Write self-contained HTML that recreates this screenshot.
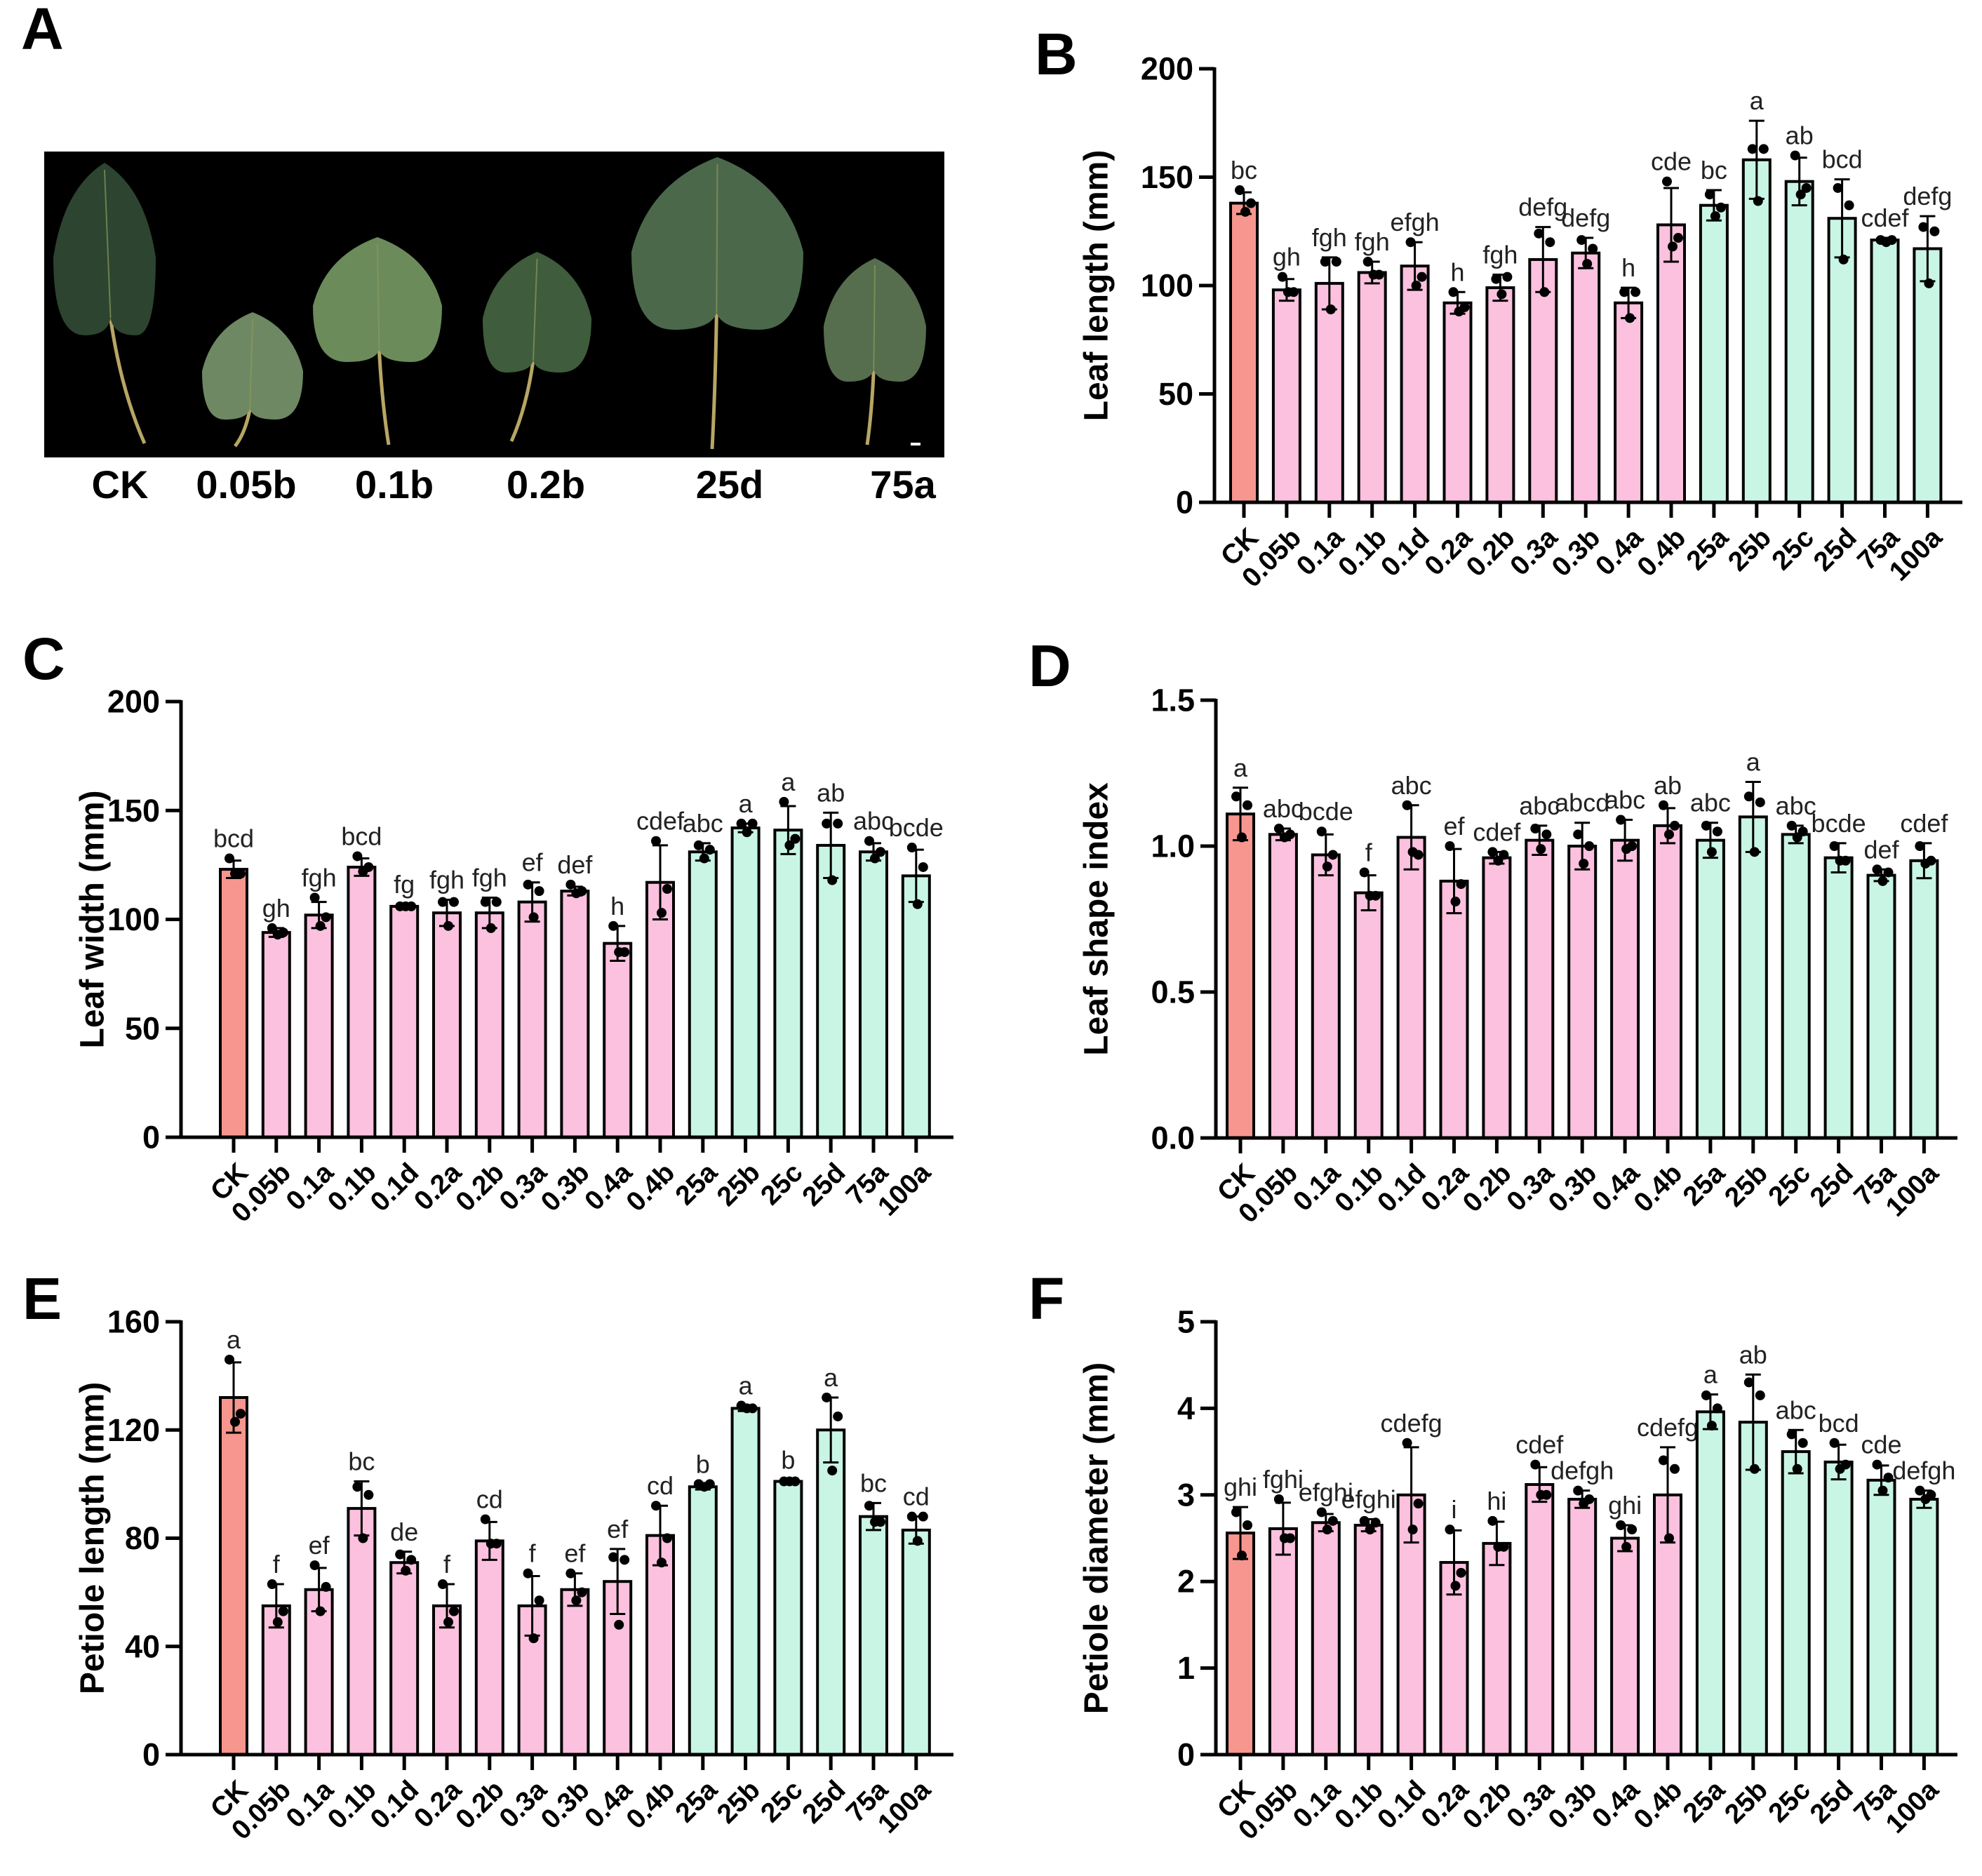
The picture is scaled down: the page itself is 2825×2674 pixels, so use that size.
<!DOCTYPE html>
<html><head><meta charset="utf-8">
<style>
html,body{margin:0;padding:0;background:#fff;}
svg{display:block;font-family:"Liberation Sans",Arial,sans-serif;}
</style></head>
<body>
<svg id="fig" width="2825" height="2674" viewBox="0 0 2825 2674" xmlns="http://www.w3.org/2000/svg">
<rect width="2825" height="2674" fill="#fff"/>
<g id="panelA">
<text x="30" y="70" font-family="'Liberation Sans Narrow','Liberation Sans',sans-serif" font-weight="bold" font-size="84">A</text>
<rect x="63" y="216" width="1283" height="436" fill="#000"/>
</g>
</svg>
<script>
const cats = ["CK","0.05b","0.1a","0.1b","0.1d","0.2a","0.2b","0.3a","0.3b","0.4a","0.4b","25a","25b","25c","25d","75a","100a"];

const lenMean = [138,98,101,106,109,92,99,112,115,92,128,137,158,148,131,121,117];
const lenSd = [5,5,12,5,11,5,6,15,7,7,17,7,18,11,18,1,15];
const lenP1 = [144,104,111,111,120,97,103,124,121,97,148,142,163,160,145,121,127];
const lenP2 = [138,97,111,105,104,90,104,120,117,97,122,136,163,145,137,121,125];
const lenP3 = [134,97,89,105,100,88,96,97,110,85,118,132,139,142,112,120,101];
const lenLet = ["bc","gh","fgh","fgh","efgh","h","fgh","defg","defg","h","cde","bc","a","ab","bcd","cdef","defg"];
const lenTicks = [0,50,100,150,200];

const widMean = [123,94,102,124,106,103,103,108,113,89,117,131,142,141,134,131,120];
const widSd = [4,2,6,4,1,6,7,9,2,8,17,4,2,11,15,4,12];
const widP1 = [128,96,110,129,106,108,108,116,116,97,136,134,144,154,144,136,133];
const widP2 = [121,94,101,124,106,108,108,113,113,85,114,132,144,137,144,131,124];
const widP3 = [121,93,97,122,106,97,96,101,112,85,103,128,140,134,118,128,107];
const widLet = ["bcd","gh","fgh","bcd","fg","fgh","fgh","ef","def","h","cdef","abc","a","a","ab","abc","bcde"];
const widTicks = [0,50,100,150,200];

const shpMean = [1.11,1.04,0.97,0.84,1.03,0.88,0.96,1.02,1.00,1.02,1.07,1.02,1.10,1.04,0.96,0.90,0.95];
const shpSd = [0.09,0.02,0.07,0.06,0.11,0.11,0.02,0.05,0.08,0.07,0.06,0.06,0.12,0.03,0.05,0.02,0.06];
const shpP1 = [1.17,1.06,1.05,0.91,1.14,1.00,0.98,1.06,1.04,1.09,1.14,1.07,1.17,1.07,1.00,0.92,1.00];
const shpP2 = [1.14,1.04,0.97,0.83,0.97,0.87,0.97,1.04,1.00,1.00,1.07,1.05,1.15,1.05,0.95,0.91,0.95];
const shpP3 = [1.03,1.03,0.93,0.83,0.98,0.81,0.95,0.99,0.94,0.99,1.04,0.98,0.98,1.03,0.95,0.88,0.94];
const shpLet = ["a","abc","bcde","f","abc","ef","cdef","abc","abcd","abc","ab","abc","a","abc","bcde","def","cdef"];
const shpTicks = [0,0.5,1.0,1.5];

const petMean = [132,55,61,91,71,55,79,55,61,64,81,99,128,101,120,88,83];
const petSd = [13,8,8,10,4,8,7,11,6,12,11,1,1,0.5,12,5,5];
const petP1 = [146,63,70,99,74,63,87,67,67,73,92,100,129,101,132,92,88];
const petP2 = [126,53,62,96,72,53,78,57,60,72,80,100,128,101,125,86,88];
const petP3 = [123,49,53,80,68,49,78,43,57,48,71,99,128,101,105,86,79];
const petLet = ["a","f","ef","bc","de","f","cd","f","ef","ef","cd","b","a","b","a","bc","cd"];
const petTicks = [0,40,80,120,160];

const diaMean = [2.56,2.61,2.68,2.65,3.0,2.22,2.44,3.12,2.95,2.5,3.0,3.96,3.84,3.5,3.38,3.17,2.95];
const diaSd = [0.3,0.3,0.1,0.07,0.55,0.37,0.25,0.2,0.1,0.15,0.55,0.2,0.55,0.25,0.2,0.17,0.1];
const diaP1 = [2.8,2.95,2.8,2.7,3.6,2.6,2.7,3.35,3.05,2.65,3.4,4.15,4.3,3.7,3.6,3.35,3.05];
const diaP2 = [2.65,2.5,2.7,2.68,2.9,2.1,2.4,3.0,2.95,2.6,3.3,4.0,4.15,3.6,3.35,3.2,3.0];
const diaP3 = [2.3,2.5,2.6,2.6,2.6,1.95,2.4,3.0,2.9,2.4,2.5,3.8,3.3,3.3,3.3,3.05,2.95];
const diaLet = ["ghi","fghi","efghi","efghi","cdefg","i","hi","cdef","defgh","ghi","cdefg","a","ab","abc","bcd","cde","defgh"];
const diaTicks = [0,1,2,3,4,5];

const leafNames = ["CK","0.05b","0.1b","0.2b","25d","75a"];

const NS = "http://www.w3.org/2000/svg";
const fig = document.getElementById('fig');
function mk(tag, attrs, parent){
  const e = document.createElementNS(NS, tag);
  for (const k in attrs) e.setAttribute(k, attrs[k]);
  (parent||fig).appendChild(e);
  return e;
}

const pa = document.getElementById('panelA');
const leaves = [
  {x1:76,y1:232,x2:222,y2:478,px:206,py:632,c:"#2c4430",lx:171},
  {x1:288,y1:445,x2:432,y2:598,px:335,py:636,c:"#6f8864",lx:351},
  {x1:446,y1:338,x2:630,y2:516,px:554,py:634,c:"#6b8b5b",lx:562},
  {x1:688,y1:359,x2:843,y2:531,px:729,py:629,c:"#3f5c3d",lx:778},
  {x1:900,y1:224,x2:1145,y2:470,px:1015,py:640,c:"#4b684b",lx:1040},
  {x1:1174,y1:368,x2:1320,y2:544,px:1236,py:634,c:"#566d4e",lx:1287}
];
leaves.forEach((L,i)=>{
  const w=L.x2-L.x1,h=L.y2-L.y1,cx=L.x1+w/2;
  const g = mk('g',{},pa);
  
  
  const nx = cx + (L.px-cx)*0.15;
  mk('path',{d:`M${nx} ${L.y2-0.1*h} Q ${nx+ (L.px-nx)*0.3} ${(L.y2+L.py)/2} ${L.px} ${L.py}`,stroke:"#b7a664",'stroke-width':5,fill:"none"},g);
  const d=`M${cx} ${L.y1} Q ${L.x2-0.1*w} ${L.y1+0.15*h} ${L.x2} ${L.y1+0.55*h} Q ${L.x2} ${L.y2} ${nx+0.25*w} ${L.y2} Q ${nx+0.03*w} ${L.y2} ${nx} ${L.y2-0.1*h} Q ${nx-0.03*w} ${L.y2} ${nx-0.25*w} ${L.y2} Q ${L.x1} ${L.y2} ${L.x1} ${L.y1+0.55*h} Q ${L.x1+0.1*w} ${L.y1+0.15*h} ${cx} ${L.y1} Z`;
  mk('path',{d:d,fill:L.c},g);
  mk('line',{x1:cx,y1:L.y1+10,x2:nx,y2:L.y2-0.1*h,stroke:"#8a9a5a",'stroke-width':2,opacity:0.7},g);
  const t = mk('text',{x:L.lx,y:710,'text-anchor':'middle','font-family':"'Liberation Sans Narrow','Liberation Sans',sans-serif",'font-weight':'bold','font-size':56},pa);
  
  
  t.textContent = leafNames[i];
});
mk('rect',{x:1298,y:631,width:14,height:4,fill:"#fff"},pa);

function chart(o){
  const g = mk('g',{});
  
  
  const vmax = o.ticks[o.ticks.length-1];
  const Y = v => o.y0 - (v/vmax)*(o.y0-o.yTop);
  const X = i => o.first + i*o.step;
  const pl = mk('text',{x:o.lx,y:o.ly,'font-family':"'Liberation Sans Narrow','Liberation Sans',sans-serif",'font-weight':'bold','font-size':84},g);
  
  
  pl.textContent = o.letter;
  const yt = mk('text',{x:0,y:0,transform:`translate(${o.tx},${(o.y0+o.yTop)/2}) rotate(-90)`,'text-anchor':'middle','dominant-baseline':'middle','font-weight':'bold','font-size':48},g);
  
  
  yt.textContent = o.title;
  o.ticks.forEach(t=>{
    mk('line',{x1:o.ax-22,x2:o.ax,y1:Y(t),y2:Y(t),stroke:'#000','stroke-width':5},g);
    const tl = mk('text',{x:o.ax-30,y:Y(t),'text-anchor':'end','dominant-baseline':'central','font-weight':'bold','font-size':45},g);
    
    
    tl.textContent = o.fmt(t);
  });
  o.mean.forEach((m,i)=>{
    const x = X(i), bw = 38;
    const fill = i===0 ? '#f7968e' : (i<=10 ? '#fbc1de' : '#c9f5e5');
    const b = mk('rect',{x:x-bw/2,y:Y(m),width:bw,height:o.y0-Y(m),fill:fill,stroke:'#000','stroke-width':4},g);
    
    
    const hi = m+o.sd[i], lo = Math.max(0,m-o.sd[i]);
    mk('line',{x1:x,x2:x,y1:Y(hi),y2:Y(lo),stroke:'#000','stroke-width':3},g);
    mk('line',{x1:x-11,x2:x+11,y1:Y(hi),y2:Y(hi),stroke:'#000','stroke-width':3},g);
    mk('line',{x1:x-11,x2:x+11,y1:Y(lo),y2:Y(lo),stroke:'#000','stroke-width':3},g);
    const pts=[o.p1[i],o.p2[i],o.p3[i]];
    const offs=[-6,10,2];
    pts.forEach((p,k)=>{
      const c = mk('circle',{cx:x+offs[k],cy:Y(p),r:7,fill:'#000'},g);
      
      
    });
    const top = Math.max(hi, ...pts);
    const lt = mk('text',{x:x,y:Y(top)-16,'text-anchor':'middle','font-size':36,fill:'#222'},g);
    
    
    lt.textContent = o.lets[i];
    mk('line',{x1:x,x2:x,y1:o.y0,y2:o.y0+22,stroke:'#000','stroke-width':5},g);
    const xl = mk('text',{x:0,y:0,transform:`translate(${x+14},${o.y0+44}) rotate(-45)`,'text-anchor':'end','dominant-baseline':'central','font-weight':'bold','font-size':39},g);
    
    
    xl.textContent = cats[i];
  });
  const ya = mk('line',{x1:o.ax,x2:o.ax,y1:o.yTop-2,y2:o.y0+2.5,stroke:'#000','stroke-width':5},g);
  
  
  const xa = mk('line',{x1:o.ax-2.5,x2:o.xEnd,y1:o.y0,y2:o.y0,stroke:'#000','stroke-width':5},g);
  
  
}
const f0 = t=>String(t), f1 = t=>t.toFixed(1);
chart({name:'panel-b-leaf-length',letter:'B',lx:1475,ly:106,title:'Leaf length (mm)',tx:1566,ax:1731,y0:716,yTop:98,first:1773,step:60.9,xEnd:2797,ticks:lenTicks,fmt:f0,mean:lenMean,sd:lenSd,p1:lenP1,p2:lenP2,p3:lenP3,lets:lenLet});
chart({name:'panel-c-leaf-width',letter:'C',lx:32,ly:968,title:'Leaf width (mm)',tx:135,ax:258,y0:1621,yTop:1000,first:333,step:60.8,xEnd:1359,ticks:widTicks,fmt:f0,mean:widMean,sd:widSd,p1:widP1,p2:widP2,p3:widP3,lets:widLet});
chart({name:'panel-d-leaf-shape-index',letter:'D',lx:1466,ly:978,title:'Leaf shape index',tx:1566,ax:1733,y0:1622,yTop:998,first:1768,step:60.9,xEnd:2790,ticks:shpTicks,fmt:f1,mean:shpMean,sd:shpSd,p1:shpP1,p2:shpP2,p3:shpP3,lets:shpLet});
chart({name:'panel-e-petiole-length',letter:'E',lx:32,ly:1880,title:'Petiole length (mm)',tx:135,ax:258,y0:2501,yTop:1884,first:333,step:60.8,xEnd:1359,ticks:petTicks,fmt:f0,mean:petMean,sd:petSd,p1:petP1,p2:petP2,p3:petP3,lets:petLet});
chart({name:'panel-f-petiole-diameter',letter:'F',lx:1466,ly:1880,title:'Petiole diameter (mm)',tx:1566,ax:1733,y0:2501,yTop:1884,first:1768,step:60.9,xEnd:2790,ticks:diaTicks,fmt:f0,mean:diaMean,sd:diaSd,p1:diaP1,p2:diaP2,p3:diaP3,lets:diaLet});
</script>
</body></html>
